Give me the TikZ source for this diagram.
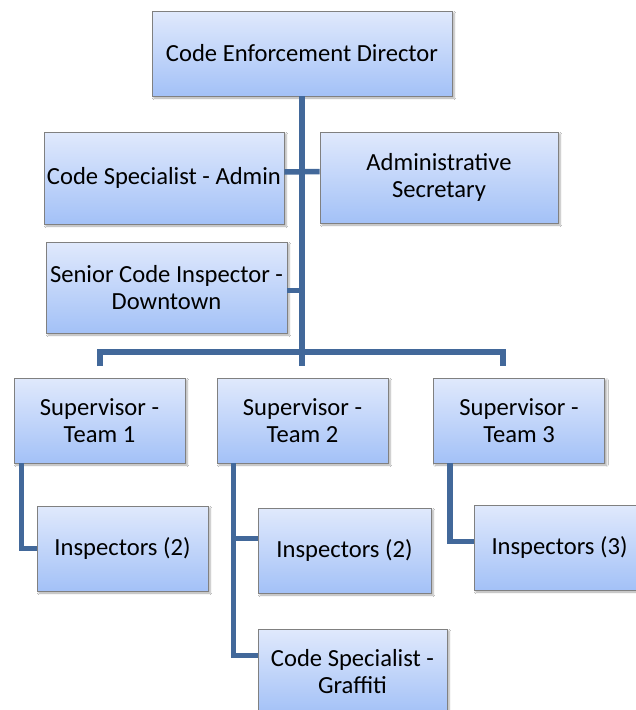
\documentclass[tikz,border=0pt]{standalone}
\usepackage{fontspec}
\setmainfont{Carlito}
\usetikzlibrary{calc, shadows.blur}

\definecolor{boxtop}{RGB}{224,233,252}
\definecolor{boxbottom}{RGB}{163,193,247}
\definecolor{boxline}{RGB}{128,128,128}
\definecolor{linkblue}{RGB}{66,104,154}

\tikzset{
  orgbox/.style = {rectangle, draw = boxline, line width = 0.8pt,
    top color = boxtop, bottom color = boxbottom, align = center,
    minimum width = 171pt, minimum height = 85pt, inner sep = 2pt,
    font = \fontsize{24.6}{27}\selectfont,
    blur shadow = {shadow xshift = 2pt, shadow yshift = -2pt,
      shadow blur steps = 4, shadow opacity = 35}},
  link/.style = {draw = linkblue, line width = 5.5pt}
}

\begin{document}
\begin{tikzpicture}[x = 1pt, y = -1pt]
\useasboundingbox (0,0) rectangle (636,710);
\fill[white] (0,0) rectangle (636,710);
\clip (0,0) rectangle (636,710);

% boxes
\node[orgbox, minimum width = 300pt] (dir) at (302,53.5) {Code Enforcement Director};
\node[orgbox, minimum width = 240pt, minimum height = 92pt] (adm) at (164,178) {Code Specialist - Admin};
\node[orgbox, minimum width = 238pt, minimum height = 91pt] (sec) at (439,177.5) {Administrative\\Secretary};
\node[orgbox, minimum width = 241pt, minimum height = 91pt] (snr) at (166.5,287.5) {Senior Code Inspector -\\Downtown};

\node[orgbox] (sup1) at (99.5,420.5) {Supervisor -\\Team 1};
\node[orgbox] (sup2) at (302.5,420.5) {Supervisor -\\Team 2};
\node[orgbox] (sup3) at (519,420.5) {Supervisor -\\Team 3};

\node[orgbox] (ins1) at (122.5,548.5) {Inspectors (2)};
\node[orgbox, minimum width = 173pt] (ins2) at (344.5,550.5) {Inspectors (2)};
\node[orgbox] (ins3) at (559.5,547.5) {Inspectors (3)};
\node[orgbox, minimum width = 189pt] (gra) at (352.5,671.5) {Code Specialist -\\Graffiti};

% drops above the supervisors
\coordinate (bar) at (302,352);
\coordinate (t1) at (100,366);
\coordinate (t2) at (302,366);
\coordinate (t3) at (503,366);

% connectors
\draw[link] (dir.south) -- (t2);
\draw[link] ([yshift=6pt]adm.east) -- ([yshift=6pt]sec.west);
\draw[link] ([yshift=-3pt]snr.east) -- ([yshift=-3pt]snr.east -| dir.south);
\draw[link] (t1) |- (bar) -| (t3);

\draw[link] ($(sup1.south west)+(8,0)$) |- (ins1.west);
\draw[link] ($(sup2.south west)+(17,0)$) |- ([yshift=12pt]ins2.west);
\draw[link] ($(sup2.south west)+(17,0)$) |- ([yshift=16pt]gra.west);
\draw[link] ($(sup3.south west)+(17,0)$) |- ([yshift=6pt]ins3.west);
\end{tikzpicture}
\end{document}
